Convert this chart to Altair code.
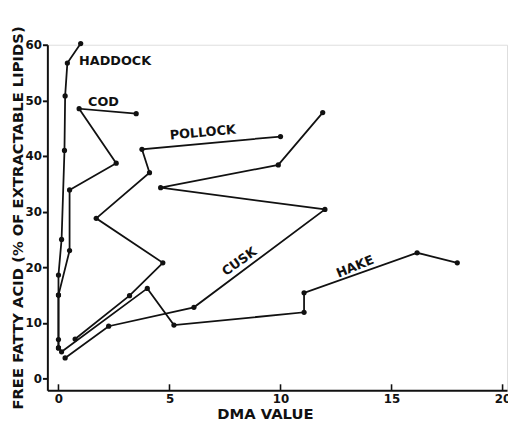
import altair as alt
import pandas as pd

# series data (DMA value, FFA %)
haddock_x = [0.0, 0.0, 0.0, 0.0, 0.14, 0.27, 0.3, 0.4, 1.0]
haddock_y = [5.5, 7.0, 15.0, 18.6, 25.0, 41.0, 50.8, 56.7, 60.2]
cod_x = [0.0, 0.0, 0.5, 0.5, 2.6, 0.93, 3.5]
cod_y = [5.5, 15.0, 23.0, 33.9, 38.7, 48.5, 47.6]
pollock_x = [0.75, 3.2, 4.7, 1.7, 4.1, 3.76, 10.0]
pollock_y = [7.1, 14.9, 20.8, 28.8, 37.0, 41.2, 43.5]
cusk_x = [0.3, 2.26, 6.1, 12.0, 4.6, 9.9, 11.9]
cusk_y = [3.7, 9.4, 12.8, 30.4, 34.3, 38.4, 47.8]
hake_x = [0.14, 4.0, 5.2, 11.06, 11.06, 16.15, 17.96]
hake_y = [4.8, 16.2, 9.6, 11.9, 15.4, 22.6, 20.8]

label_text = ["HADDOCK", "COD", "POLLOCK", "CUSK", "HAKE"]
label_x = [0.93, 1.33, 6.5, 8.15, 13.36]
label_y = [57.0, 49.7, 44.2, 21.0, 20.1]
label_angle = [0, 0, 355, 324, 338]
label_align = ["left", "left", "center", "center", "center"]

x_ticks = [0, 5, 10, 15, 20]
y_ticks = [0, 10, 20, 30, 40, 50, 60]

rows = []
for name, xs_, ys_ in [("HADDOCK", haddock_x, haddock_y), ("COD", cod_x, cod_y),
                       ("POLLOCK", pollock_x, pollock_y), ("CUSK", cusk_x, cusk_y),
                       ("HAKE", hake_x, hake_y)]:
    for i, (a, b) in enumerate(zip(xs_, ys_)):
        rows.append({"fish": name, "i": i, "dma": a, "ffa": b})
df = pd.DataFrame(rows)
lab = pd.DataFrame({"t": label_text, "dma": label_x, "ffa": label_y})
tick_df = pd.DataFrame({"dma": x_ticks})

FONT = "DejaVu Sans"
INK = "#111"
xs = alt.Scale(domain=[-0.5, 20.2], nice=False, zero=False)
ys = alt.Scale(domain=[-2.1, 60], nice=False, zero=False)

xax = alt.Axis(values=x_ticks, title="DMA VALUE", grid=False, domainColor=INK,
               domainWidth=2, ticks=False, labelPadding=4,
               labelFont=FONT, labelFontWeight="bold", labelFontSize=12, labelColor=INK,
               titleFont=FONT, titleFontWeight="bold", titleFontSize=15, titleColor=INK,
               titleX=221, titleY=29, titleBaseline="alphabetic")
yax = alt.Axis(values=y_ticks, title="FREE FATTY ACID (% OF EXTRACTABLE LIPIDS)", grid=False,
               domainColor=INK, domainWidth=2, tickColor=INK, tickWidth=2, tickSize=5,
               labelPadding=1,
               labelFont=FONT, labelFontWeight="bold", labelFontSize=12, labelColor=INK,
               titleFont=FONT, titleFontWeight="bold", titleFontSize=15, titleColor=INK,
               titleX=-25, titleBaseline="alphabetic")

base = alt.Chart(df)
lines = base.mark_line(color=INK, strokeWidth=1.8).encode(
    x=alt.X("dma:Q", scale=xs, axis=xax),
    y=alt.Y("ffa:Q", scale=ys, axis=yax),
    detail="fish:N",
    order="i:Q",
)
pts = base.mark_circle(color=INK, opacity=1, size=28).encode(
    x=alt.X("dma:Q", scale=xs), y=alt.Y("ffa:Q", scale=ys))

xticks_in = alt.Chart(tick_df).mark_rule(color=INK, strokeWidth=1.6).encode(
    x=alt.X("dma:Q", scale=xs), y=alt.value(351), y2=alt.value(345))

texts = []
for k in range(len(label_text)):
    texts.append(alt.Chart(lab.iloc[[k]]).mark_text(
        font=FONT, fontWeight="bold", fontSize=13, color=INK,
        angle=label_angle[k], align=label_align[k], baseline="middle").encode(
        x=alt.X("dma:Q", scale=xs), y=alt.Y("ffa:Q", scale=ys), text="t:N"))

chart = alt.layer(lines, pts, xticks_in, *texts).properties(
    width=467, height=351,
    autosize=alt.AutoSizeParams(type="none"),
    padding={"left": 40, "top": 34, "right": 1, "bottom": 30},
).configure_view(stroke=None).configure(background="white")

chart.save("out.html", embed_options={"renderer": "svg", "actions": False})
